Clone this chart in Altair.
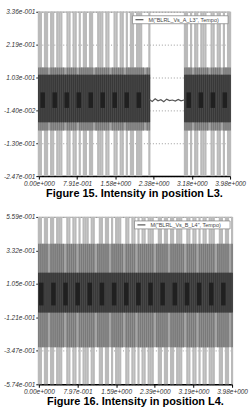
import altair as alt
import pandas as pd

# ---------------- Figure 15 (position L3) ----------------
top_x_ticks = [0.0, 0.796, 1.592, 2.388, 3.184, 3.98]
top_x_labels = ["0.00e+000", "7.91e-001", "1.58e+000", "2.38e+000", "3.18e+000", "3.98e+000"]
top_y_ticks = [0.336, 0.2194, 0.1028, -0.0138, -0.1304, -0.247]
top_y_labels = ["3.36e-001", "2.19e-001", "1.03e-001", "-1.40e-002", "-1.30e-001", "-2.47e-001"]
# active oscillation segments (start, end) and per-stripe amplitude level codes
top_segments = [(0.0, 2.30), (3.04, 3.98)]
top_levels = [
    "3323313323332133233132332331233323312332331323323332123",
    "33231332333213323313233",
]
# band limits: outer, mid, inner, core
top_bands = {"outer": (-0.247, 0.336), "mid": (-0.085, 0.138), "inner": (-0.056, 0.113), "core": (-0.005, 0.05)}
top_core_t = [0.08, 0.33, 0.58, 0.83, 1.08, 1.33, 1.58, 1.83, 2.08, 3.12, 3.37, 3.62, 3.87]
# quiet interval between segments
top_flat_t = [2.30, 2.36, 2.42, 2.48, 2.54, 2.60, 2.66, 2.72, 2.78, 2.84, 2.90, 2.96, 3.04]
top_flat_v = [0.025, 0.018, 0.027, 0.020, 0.024, 0.017, 0.026, 0.021, 0.023, 0.019, 0.025, 0.020, 0.024]
top_series = 'M("BLRL_Vs_A_L3", Tempo)'
top_caption = "Figure 15. Intensity in position L3."

# ---------------- Figure 16 (position L4) ----------------
bot_x_ticks = [0.0, 0.796, 1.592, 2.388, 3.184, 3.98]
bot_x_labels = ["0.00e+000", "7.97e-001", "1.59e+000", "2.39e+000", "3.19e+000", "3.98e+000"]
bot_y_ticks = [0.559, 0.332, 0.105, -0.121, -0.347, -0.574]
bot_y_labels = ["5.59e-001", "3.32e-001", "1.05e-001", "-1.21e-001", "-3.47e-001", "-5.74e-001"]
bot_segments = [(0.0, 3.98)]
bot_levels = [
    "332331332333213323313233323312332331323332133233132332333123323313323332133233132332333123323313",
]
bot_bands = {"outer": (-0.574, 0.559), "mid": (-0.324, 0.377), "inner": (-0.088, 0.181), "core": (-0.04, 0.114)}
bot_core_t = [0.05, 0.30, 0.55, 0.80, 1.05, 1.30, 1.55, 1.80, 2.05, 2.30, 2.55, 2.80, 3.05, 3.30, 3.55, 3.80]
bot_flat_t = []
bot_flat_v = []
bot_series = 'M("BLRL_Vs_B_L4", Tempo)'
bot_caption = "Figure 16. Intensity in position L4."

FONT = "Liberation Sans"


def lbl_expr(ticks, labels):
    t = ",".join(repr(v) for v in ticks)
    l = ",".join("'" + s + "'" for s in labels)
    return f"[{l}][indexof([{t}], datum.value)]"


def panel(x_ticks, x_labels, y_ticks, y_labels, segments, levels, bands,
          core_t, flat_t, flat_v, series, caption, w, h):
    xdom = [x_ticks[0], x_ticks[-1]]
    ydom = [y_ticks[-1], y_ticks[0]]
    xs = alt.Scale(domain=xdom, nice=False, zero=False)
    ys = alt.Scale(domain=ydom, nice=False, zero=False)
    xax = alt.Axis(values=x_ticks, labelExpr=lbl_expr(x_ticks, x_labels), title=None, grid=False,
                   domainColor="black", domainWidth=1.5, labelOverlap=False, labelFlush=False)
    yax = alt.Axis(values=y_ticks, labelExpr=lbl_expr(y_ticks, y_labels), title=None, grid=True,
                   gridDash=[1, 2], gridColor="#9a9a9a", domain=False, labelOverlap=False, labelFlush=False)

    def X(f):
        return alt.X(f, type="quantitative", scale=xs, axis=xax)

    def Y(f):
        return alt.Y(f, type="quantitative", scale=ys, axis=yax)

    rows = []
    for (t0, t1), codes in zip(segments, levels):
        n = len(codes)
        for i, c in enumerate(codes):
            t = t0 + (t1 - t0) * i / (n - 1)
            lev = int(c)
            if lev >= 3:
                rows.append({"t": t, "lo": bands["outer"][0], "hi": bands["outer"][1], "band": "outer"})
            if lev >= 2:
                rows.append({"t": t, "lo": bands["mid"][0], "hi": bands["mid"][1], "band": "mid"})
            if lev >= 1:
                rows.append({"t": t, "lo": bands["inner"][0], "hi": bands["inner"][1], "band": "inner"})
    stripes = pd.DataFrame(rows)
    bg = pd.DataFrame(
        [{"t0": a, "t1": b, "lo": bands[k][0], "hi": bands[k][1], "band": k}
         for (a, b) in segments for k in ("mid", "inner")])
    core = pd.DataFrame({"t": core_t, "lo": bands["core"][0], "hi": bands["core"][1]})

    layers = []
    layers.append(alt.Chart(stripes).transform_filter(alt.datum.band == "outer")
                  .mark_rule(color="#bababa", strokeWidth=2.2)
                  .encode(x=X("t"), y=Y("lo"), y2="hi"))
    layers.append(alt.Chart(bg).transform_filter(alt.datum.band == "mid")
                  .mark_bar(color="#a4a4a4")
                  .encode(x=X("t0"), x2="t1", y=Y("lo"), y2="hi"))
    layers.append(alt.Chart(stripes).transform_filter(alt.datum.band == "mid")
                  .mark_rule(color="#7a7a7a", strokeWidth=1.6)
                  .encode(x=X("t"), y=Y("lo"), y2="hi"))
    layers.append(alt.Chart(bg).transform_filter(alt.datum.band == "inner")
                  .mark_bar(color="#555555")
                  .encode(x=X("t0"), x2="t1", y=Y("lo"), y2="hi"))
    layers.append(alt.Chart(stripes).transform_filter(alt.datum.band == "inner")
                  .mark_rule(color="#383838", strokeWidth=1.5)
                  .encode(x=X("t"), y=Y("lo"), y2="hi"))
    layers.append(alt.Chart(core).mark_rule(color="#202020", strokeWidth=4.5)
                  .encode(x=X("t"), y=Y("lo"), y2="hi"))
    if flat_t:
        flat = pd.DataFrame({"t": flat_t, "v": flat_v})
        layers.append(alt.Chart(flat).mark_line(color="#555555", strokeWidth=1.2)
                      .encode(x=X("t"), y=Y("v")))
    one = pd.DataFrame({"s": [series]})
    layers.append(alt.Chart(one).mark_rect(fill="white", stroke="#8a8a8a", strokeWidth=0.8)
                  .encode(x=alt.value(w - 98), x2=alt.value(w - 2), y=alt.value(4), y2=alt.value(12)))
    layers.append(alt.Chart(one).mark_rule(color="#333333", strokeWidth=1)
                  .encode(x=alt.value(w - 95), x2=alt.value(w - 87), y=alt.value(8)))
    layers.append(alt.Chart(one).mark_text(font=FONT, fontSize=5.5, align="left", baseline="middle",
                                           color="#444444")
                  .encode(text="s:N", x=alt.value(w - 82), y=alt.value(8.5)))

    return alt.layer(*layers).properties(
        width=w, height=h,
        title=alt.TitleParams(caption, orient="bottom", anchor="middle", font=FONT, fontSize=11,
                              fontWeight="bold", color="black", offset=1),
    )


top = panel(top_x_ticks, top_x_labels, top_y_ticks, top_y_labels, top_segments, top_levels, top_bands,
            top_core_t, top_flat_t, top_flat_v, top_series, top_caption, 192, 165)
bot = panel(bot_x_ticks, bot_x_labels, bot_y_ticks, bot_y_labels, bot_segments, bot_levels, bot_bands,
            bot_core_t, bot_flat_t, bot_flat_v, bot_series, bot_caption, 194, 168)

chart = alt.vconcat(top, bot, spacing=14).properties(
    padding={"left": 3, "top": 7, "right": 2, "bottom": 2},
    background="white",
).configure_view(stroke="#8a8a8a", strokeWidth=0.8).configure_axis(
    labelFont=FONT, labelFontSize=6.5, labelFontStyle="italic", labelColor="#333333",
    tickColor="black", tickSize=3, labelPadding=1,
)

chart.save("out.html", embed_options={"renderer": "svg", "actions": False})
